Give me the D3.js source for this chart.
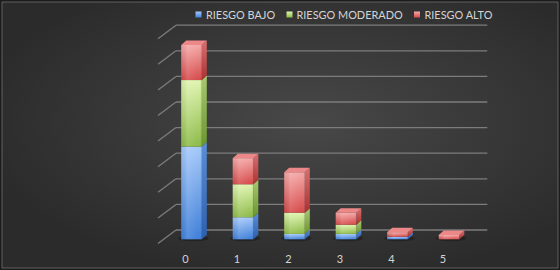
<!DOCTYPE html>
<html><head><meta charset="utf-8">
<script src="https://cdn.jsdelivr.net/npm/d3@7"></script>
<style>html,body{margin:0;padding:0;background:#fff;}svg{display:block;}</style>
</head><body>
<svg id="c" width="560" height="270"></svg>
<script>
const categories = ["0","1","2","3","4","5"];
const seriesNames = ["RIESGO BAJO","RIESGO MODERADO","RIESGO ALTO"];
const riesgoBajo = [36.2, 8.6, 2.1, 2.1, 1.0, 0];
const riesgoModerado = [26.0, 12.9, 8.3, 3.6, 0, 0];
const riesgoAlto = [13.7, 10.2, 15.8, 4.7, 1.8, 1.7];
const gridTicks = [0,10,20,30,40,50,60,70,80];

const svg = d3.select("#c");
const W = 560, H = 270;
const defs = svg.append("defs");

// background
const bg = defs.append("radialGradient").attr("id","bg").attr("cx","0.55").attr("cy","0.45").attr("r","0.6");
bg.append("stop").attr("offset","0").attr("stop-color","#484848");
bg.append("stop").attr("offset","1").attr("stop-color","#2b2b2b");
svg.append("rect").attr("x",0).attr("y",0).attr("width",W).attr("height",H).attr("fill","#1c1c1c");
svg.append("rect").attr("x",2).attr("y",2).attr("width",W-4).attr("height",H-4).attr("fill","url(#bg)")
  .attr("stroke","#6f6f6f").attr("stroke-width",0.8);

const x = d3.scaleBand().domain(categories).range([165.75, 474.75]).paddingInner(0.6).paddingOuter(0.3);
const y = d3.scaleLinear().domain([0,80]).range([239.3, 34.5]);
const depthX = 5, depthY = -4.5;       // bar depth
const backOff = -9.3;                  // back wall offset in y
const diagDX = -18, diagDY = 13.5;
const wallX = 176, wallRight = 487.3;

// gridlines on back wall plus left side diagonals
const g = svg.append("g");
gridTicks.forEach(t => {
  const yy = y(t) + backOff;
  g.append("line").attr("x1",wallX).attr("x2",wallRight).attr("y1",yy).attr("y2",yy)
    .attr("stroke","#7c7c7c").attr("stroke-width",1.3);
  g.append("line").attr("x1",wallX).attr("y1",yy).attr("x2",wallX+diagDX).attr("y2",yy+diagDY)
    .attr("stroke","#7c7c7c").attr("stroke-width",1.3);
});

// gradients per series
const palettes = [
  {front:["#a6c9fa","#3f7fd8"], side:["#5b8fd8","#2c5fae"], top:"#8db8f0"},
  {front:["#e0f5b0","#8cba48"], side:["#a8c870","#6a9530"], top:"#cfe998"},
  {front:["#f5a8a8","#d64a4a"], side:["#d87070","#aa3232"], top:"#ec8888"}
];
palettes.forEach((p,i) => {
  const f = defs.append("linearGradient").attr("id","f"+i).attr("x1",0).attr("y1",0).attr("x2",0).attr("y2",1);
  f.append("stop").attr("offset",0).attr("stop-color",p.front[0]);
  f.append("stop").attr("offset",1).attr("stop-color",p.front[1]);
  const h = defs.append("linearGradient").attr("id","fh"+i).attr("x1",0).attr("y1",0).attr("x2",1).attr("y2",0);
  h.append("stop").attr("offset",0).attr("stop-color","#000").attr("stop-opacity",0.05);
  h.append("stop").attr("offset",0.3).attr("stop-color","#fff").attr("stop-opacity",0.12);
  h.append("stop").attr("offset",0.85).attr("stop-color","#fff").attr("stop-opacity",0.0);
  h.append("stop").attr("offset",1).attr("stop-color","#000").attr("stop-opacity",0.08);
  const s = defs.append("linearGradient").attr("id","s"+i).attr("x1",0).attr("y1",0).attr("x2",0).attr("y2",1);
  s.append("stop").attr("offset",0).attr("stop-color",p.side[0]);
  s.append("stop").attr("offset",1).attr("stop-color",p.side[1]);
});

const stackData = categories.map((c,i) => ({cat:c, v0:riesgoBajo[i], v1:riesgoModerado[i], v2:riesgoAlto[i]}));
const stacked = d3.stack().keys(["v0","v1","v2"])(stackData);

// shadow under bars
const bars = svg.append("g");
categories.forEach((c,ci) => {
  const x0 = x(c), bw = x.bandwidth();
  bars.append("ellipse").attr("cx", x0+bw/2+2).attr("cy", y(0)-1).attr("rx", bw/2+5).attr("ry",3)
    .attr("fill","#000").attr("opacity",0.25);
});
categories.forEach((c,ci) => {
  const x0 = x(c), bw = x.bandwidth();
  let topIdx = -1;
  stacked.forEach((s,si) => { if (s[ci][1]-s[ci][0] > 0) topIdx = si; });
  stacked.forEach((s,si) => {
    const a = s[ci][0], b = s[ci][1];
    if (b - a <= 0) return;
    const yt = y(b), yb = y(a);
    bars.append("path").attr("d",
      `M${x0+bw},${yb} L${x0+bw+depthX},${yb+depthY} L${x0+bw+depthX},${yt+depthY} L${x0+bw},${yt} Z`)
      .attr("fill",`url(#s${si})`);
    bars.append("rect").attr("x",x0).attr("y",yt).attr("width",bw).attr("height",yb-yt).attr("fill",`url(#f${si})`);
    bars.append("rect").attr("x",x0).attr("y",yt).attr("width",bw).attr("height",yb-yt).attr("fill",`url(#fh${si})`);
    if (si === topIdx) {
      bars.append("path").attr("d",
        `M${x0},${yt} L${x0+depthX},${yt+depthY} L${x0+bw+depthX},${yt+depthY} L${x0+bw},${yt} Z`)
        .attr("fill", palettes[si].top);
    }
  });
});

// category labels
svg.append("g").selectAll("text").data(categories).join("text")
  .attr("x", d => x(d) + x.bandwidth()/2 - 6)
  .attr("y", 262.5)
  .attr("text-anchor","middle")
  .attr("font-family","Lato, 'Open Sans', sans-serif")
  .attr("font-size", 11)
  .attr("fill","#d4d4d4")
  .text(d => d);

// legend
const legendX = [[195.5, 206], [286.5, 296.5], [414, 424.5]];
const leg = svg.append("g");
seriesNames.forEach((n,i) => {
  leg.append("rect").attr("x",legendX[i][0]).attr("y",11.5).attr("width",6).attr("height",6)
    .attr("fill",`url(#f${i})`);
  leg.append("text").attr("x",legendX[i][1]).attr("y",19)
    .attr("font-family","Lato, 'Open Sans', sans-serif").attr("font-size",10.9)
    .attr("fill","#d4d4d4").text(n);
});
</script>
</body></html>
